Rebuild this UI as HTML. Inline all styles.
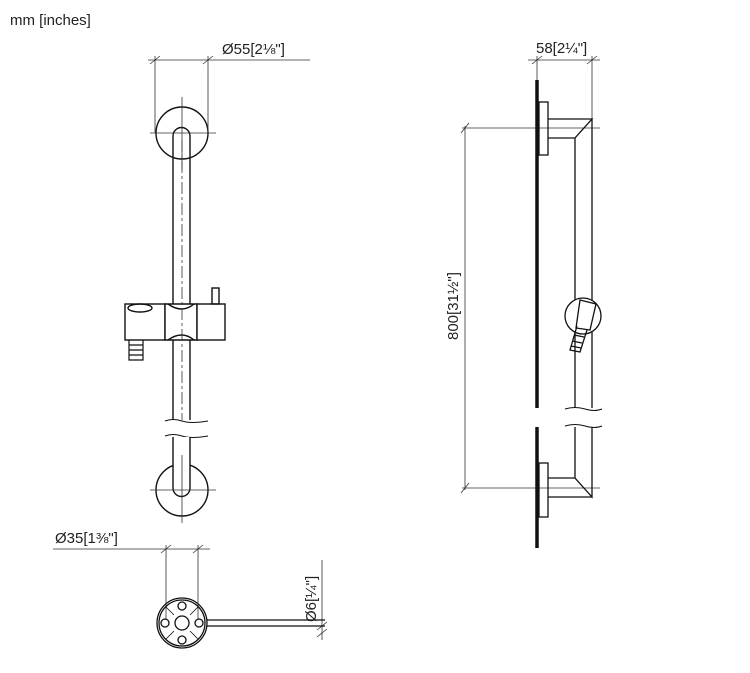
<!DOCTYPE html>
<html><head><style>body{margin:0;background:#fff}svg{display:block}text{font-family:"Liberation Sans",sans-serif;fill:#222}</style></head><body>
<svg width="750" height="673" viewBox="0 0 750 673" xmlns="http://www.w3.org/2000/svg">
<text x="10" y="25" font-size="15">mm [inches]</text>
<g stroke="#111" fill="none" stroke-width="1.4">
<circle cx="182" cy="133" r="26" fill="#fff"/>
<path d="M173,420 V136 A8.5,8.5 0 0 1 190,136 V420"/>
<path d="M165,421 q8,-3 17,0 t26,0" stroke-width="1"/>
<path d="M165,436 q8,-3 17,0 t26,0" stroke-width="1"/>
<circle cx="182" cy="490" r="26" fill="#fff"/>
<path d="M173,437 V488 A8.5,8.5 0 0 0 190,488 V437" fill="#fff"/>
<rect x="125" y="304" width="40" height="36" fill="#fff"/>
<path d="M165,304 H197 V340 H165 Z" fill="#fff"/>
<path d="M168,304 q14,10 26,0 M168,340 q14,-10 26,0"/>
<rect x="197" y="304" width="28" height="36" fill="#fff"/>
<rect x="212" y="288" width="7" height="16"/>
<ellipse cx="140" cy="308" rx="12" ry="4"/>
<path d="M129,340 V360 H143 V340 M129,345 H143 M129,350 H143 M129,355 H143" stroke-width="1.2"/>
</g>
<g stroke="#333" stroke-width="0.8" fill="none">
<path d="M182,97 V170 M150,133 H216 M182,455 V523 M150,490 H216"/>
<path d="M182,140 V420" stroke-dasharray="12,3,3,3"/>
<path d="M148,60 H310 M155,56 V133 M208,56 V133 M150,64 l10,-8 M203,64 l10,-8"/>
<path d="M53,549 H210 M166,545 V620 M198,545 V620 M161,553 l10,-8 M193,553 l10,-8"/>
<path d="M322,560 V640 M317,630 l10,-8 M317,637 l10,-8"/>
<path d="M528,60 H600 M537,56 V80 M592,56 V119 M532,64 l10,-8 M587,64 l10,-8"/>
<path d="M462,128 H600 M462,488 H600 M465,126 V490 M461,133 l8,-10 M461,493 l8,-10"/>
</g>
<text x="222" y="54" font-size="15">Ø55[2⅛"]</text>
<text x="55" y="543" font-size="15">Ø35[1⅜"]</text>
<text transform="translate(316,622) rotate(-90)" font-size="15">Ø6[¼"]</text>
<text x="536" y="53" font-size="15">58[2¼"]</text>
<text transform="translate(458,340) rotate(-90)" font-size="15">800[31½"]</text>
<g stroke="#111" fill="none" stroke-width="1.3">
<circle cx="182" cy="623" r="25"/>
<circle cx="182" cy="623" r="23"/>
<circle cx="182" cy="623" r="7"/>
<circle cx="182" cy="606" r="4"/><circle cx="182" cy="640" r="4"/>
<circle cx="165" cy="623" r="4"/><circle cx="199" cy="623" r="4"/>
<path d="M207,620 H325 M207,626 H325"/>
<path d="M166,607 l8,8 M190,631 l8,8 M198,607 l-8,8 M166,639 l8,-8" stroke-width="0.8"/>
</g>
<g stroke="#111" fill="none" stroke-width="1.3">
<path d="M537,80 V408 M537,427 V548" stroke-width="3.5"/>
<rect x="539" y="102" width="9" height="53"/>
<rect x="539" y="463" width="9" height="54"/>
<path d="M548,119 H592 L575,138 V408 M592,119 V408 M548,138 H575"/>
<path d="M575,427 V478 L592,497 V427 M548,497 H592 M548,478 H575"/>
<path d="M565,409 q10,-3 20,0 t17,0 M565,426 q10,-3 20,0 t17,0" stroke-width="1"/>
<circle cx="583" cy="316" r="18" fill="#fff"/>
<path d="M580,300 L596,304 L590,330 L576,328 Z" fill="#fff"/>
<path d="M577,326 L570,350 L580,352 L587,330 M574,335 l10,2 M572,341 l10,2 M571,346 l10,2"/>
</g>
</svg>
</body></html>
